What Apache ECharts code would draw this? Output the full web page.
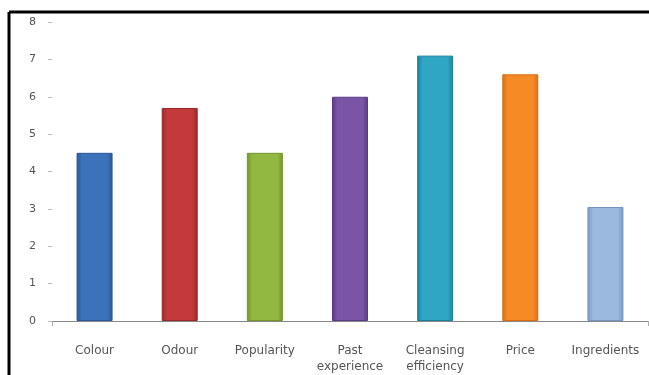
<!DOCTYPE html>
<html>
 <head>
  <meta charset="utf-8" />
  <title>Bar chart</title>
  <script src="https://cdn.jsdelivr.net/npm/echarts@6/dist/echarts.min.js"></script>
  <style>
   body { margin: 0; background: #fff; }
  </style>
 </head>
 <body>
  <div id="main" style="width: 649px;height:375px;"></div>
  <script type="text/javascript">

    // data
    var categories = ['Colour', 'Odour', 'Popularity', 'Past\nexperience', 'Cleansing\nefficiency', 'Price', 'Ingredients'];
    var values = [4.5, 5.7, 4.5, 6.0, 7.1, 6.6, 3.05];
    var yTicks = [0, 1, 2, 3, 4, 5, 6, 7, 8];

    // bar colours: edge shade, centre tone
    var barColors = [
        ['#2a5896', '#3b72b9'],
        ['#99282a', '#c43a3b'],
        ['#73962b', '#93b842'],
        ['#5b3a85', '#7a55a7'],
        ['#1b7f9c', '#2ea6c4'],
        ['#d86d14', '#f68b25'],
        ['#7594bf', '#9bb8de']
    ];

    function shade(c) {
        return new echarts.graphic.LinearGradient(0, 0, 1, 0, [
            { offset: 0, color: c[0] },
            { offset: 0.15, color: c[1] },
            { offset: 0.85, color: c[1] },
            { offset: 1, color: c[0] }
        ]);
    }

    var myChart = echarts.init(document.getElementById('main'));

    myChart.setOption({
        animation: false,
        grid: { left: 52, right: 1, top: 22, bottom: 51 },
        graphic: [
            { type: 'line', shape: { x1: 9, y1: 12, x2: 649, y2: 12 }, style: { stroke: '#000', lineWidth: 3 } },
            { type: 'line', shape: { x1: 9, y1: 12, x2: 9, y2: 375 }, style: { stroke: '#000', lineWidth: 3 } }
        ],
        xAxis: {
            type: 'category',
            data: categories,
            axisLine: { lineStyle: { color: '#888', width: 1 } },
            axisTick: {
                show: true,
                length: 5,
                lineStyle: { color: '#aaa' },
                interval: function (index) { return index === 6; }
            },
            axisLabel: {
                interval: 0,
                margin: 22,
                color: '#555',
                fontSize: 12,
                fontFamily: 'DejaVu Sans',
                lineHeight: 16
            }
        },
        yAxis: {
            type: 'value',
            min: yTicks[0],
            max: yTicks[yTicks.length - 1],
            interval: 1,
            axisLine: { show: false },
            axisTick: { show: true, length: 4, lineStyle: { color: '#bbb' } },
            splitLine: { show: false },
            axisLabel: {
                margin: 16,
                color: '#555',
                fontSize: 11,
                fontFamily: 'DejaVu Sans'
            }
        },
        series: [{
            type: 'bar',
            barWidth: 36,
            data: values.map(function (v, i) {
                return {
                    value: v,
                    itemStyle: {
                        color: shade(barColors[i]),
                        borderColor: barColors[i][0],
                        borderWidth: 1
                    }
                };
            })
        }]
    });
</script>
 </body>
</html>
